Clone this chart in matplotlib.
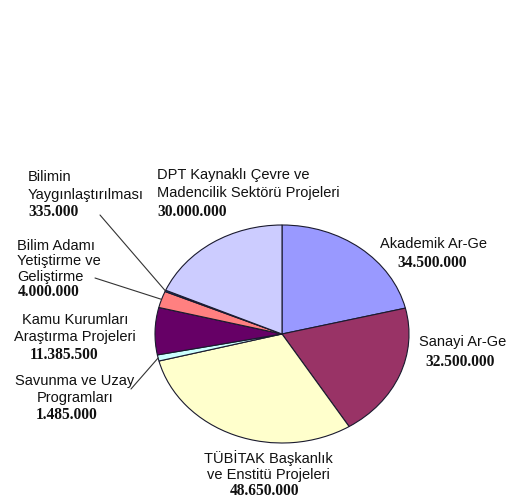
import matplotlib.pyplot as plt
import numpy as np

# slice data (clockwise from 12 o'clock)
names = ['Akademik Ar-Ge', 'Sanayi Ar-Ge', 'TÜBİTAK Başkanlık\nve Enstitü Projeleri',
         'Savunma ve Uzay\nProgramları', 'Kamu Kurumları\nAraştırma Projeleri',
         'Bilim Adamı\nYetiştirme ve\nGeliştirme', 'Bilimin\nYaygınlaştırılması',
         'DPT Kaynaklı Çevre ve\nMadencilik Sektörü Projeleri']
values = [34500000, 32500000, 48650000, 1485000, 11385500, 4000000, 335000, 30000000]
value_labels = ['34.500.000', '32.500.000', '48.650.000', '1.485.000',
                '11.385.500', '4.000.000', '335.000', '30.000.000']
colors = ['#9999FF', '#993366', '#FFFFCC', '#CCFFFF', '#660066', '#FF8080', '#0066CC', '#CCCCFF']

W, H = 509, 500
fig = plt.figure(figsize=(W / 100, H / 100), dpi=100)
fig.patch.set_facecolor('white')

# pie centre / radii in pixels (slightly flattened, like the original)
cx, cy, rx, ry = 282, 334, 127, 109
ax = fig.add_axes([(cx - rx) / W, (H - cy - ry) / H, 2 * rx / W, 2 * ry / H])
ax.pie(values, colors=colors, startangle=90, counterclock=False,
       wedgeprops=dict(edgecolor='#1a1a2e', linewidth=0.8))
ax.set_aspect('auto')
ax.set_xlim(-1, 1)
ax.set_ylim(-1, 1)
ax.axis('off')

# label layout: name x, number x, first line y, line step (pixels), alignment
label_pos = [
    (434, 432, 244, 19, 'center'),
    (463, 460, 342, 20, 'center'),
    (268, 264, 458, 16.5, 'center'),
    (75, 67, 381, 17, 'center'),
    (75, 64, 320, 17.5, 'center'),
    (17, 18, 246, 15.5, 'left'),
    (28, 28, 177, 17.5, 'left'),
    (157, 157, 175, 18.5, 'left'),
]
name_font = dict(family='Liberation Sans', size=10.5, color='#111111')
num_font = dict(family='Liberation Serif', size=11.2, weight='bold', color='#111111')

for name, vlab, (nx, vx, py, step, ha) in zip(names, value_labels, label_pos):
    lines = name.split('\n')
    for k, ln in enumerate(lines):
        fig.text(nx / W, 1 - (py + k * step) / H, ln, ha=ha, va='center', **name_font)
    ny = py + len(lines) * step
    fig.text(vx / W, 1 - ny / H, vlab, ha=ha, va='center', **num_font)

# leader lines for the thin slices
total = float(sum(values))
cum = np.cumsum([0] + values[:-1]) / total
fracs = np.array(values) / total
leader_from = {6: (100, 215), 5: (95, 278), 3: (131, 389)}
for i, (lx, ly) in leader_from.items():
    ang = np.deg2rad(90 - (cum[i] + fracs[i] / 2) * 360)
    ax.annotate('', xy=(np.cos(ang), np.sin(ang)), xycoords='data',
                xytext=(lx / W, 1 - ly / H), textcoords='figure fraction',
                arrowprops=dict(arrowstyle='-', color='#333333', lw=0.8,
                                shrinkA=0, shrinkB=0))

fig.savefig('out.png', dpi=100)
